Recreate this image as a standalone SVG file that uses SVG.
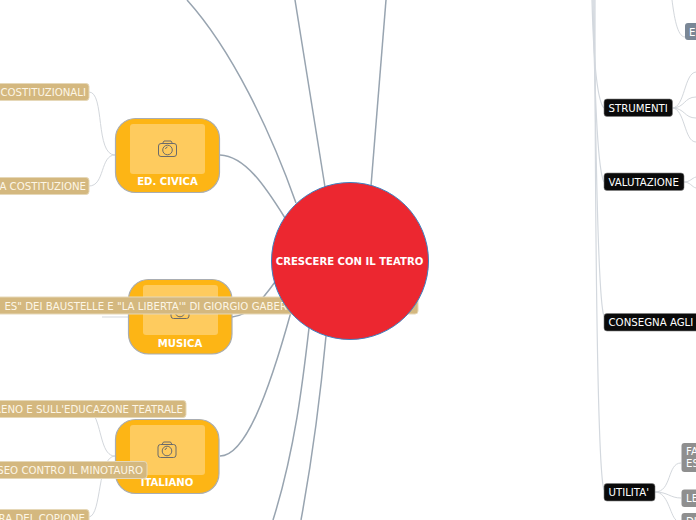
<svg xmlns="http://www.w3.org/2000/svg" width="696" height="520" viewBox="0 0 696 520">
<style>
text{font-family:"DejaVu Sans",sans-serif;font-size:10.2px}
.main{fill:none;stroke:#98a4b0;stroke-width:1.5}
.sub{fill:none;stroke:#d3d7dc;stroke-width:1}
.trunk{fill:none;stroke:#d3d8de;stroke-width:1.2}
.card{fill:#fdb515;stroke:#a9adb2;stroke-width:1.2}
.inner{fill:#fecb5e}
.cardt{fill:#fff;font-weight:bold;text-anchor:middle;font-size:10.100px}
.tan{fill:#d4b87f;stroke:#e6d8b8;stroke-width:1}
.tant{fill:#fdf6e6;text-anchor:end}
.blk{fill:#0a0a0a;stroke:#7d7d7d;stroke-width:.6}
.blkt{fill:#fff}
.gry{fill:#8f8f8f}
.gryt{fill:#fff}
.cam{fill:none;stroke:#6b6b6b;stroke-width:1}
</style>
<defs>
<g id="cam"><rect x="-9" y="-5.500" width="18" height="13" rx="2.500" class="cam"/><path d="M-5-5.500l1.500-2.500h7l1.500 2.500" class="cam"/><circle cx="0" cy="1" r="4.800" class="cam"/><path d="M-2 0a2.500 2.500 0 0 1 2-2" class="cam"/></g>
</defs>
<g id="connectors">
<path class="main" d="M187 0C232 50 270 130 296 203"/>
<path class="main" d="M295 0L325 187"/>
<path class="main" d="M386 0L371 186"/>
<path class="main" d="M220 155C245 156 265 186 285 218"/>
<path class="main" d="M232 317C250 315 262 300 275 282"/>
<path class="main" d="M220 456C245 456 268 395 291 312"/>
<path class="main" d="M309 328C303 380 295 450 273 520"/>
<path class="main" d="M326 336C320 400 312 460 301 520"/>
<path class="sub" d="M102 317H128"/>
<path class="sub" d="M89 92C105 92 95 155 115 155"/>
<path class="sub" d="M89 186C105 186 100 155 115 155"/>
<path class="sub" d="M95 417C102 432 102 456 115 456"/>
<path class="sub" d="M147 470C130 470 120 456 115 456"/>
<path class="sub" d="M89 517C102 515 97 457 115 456"/>
<path class="trunk" d="M592 0C593 40 596 100 604 108"/>
<path class="trunk" d="M593 0C594 60 597 170 604 182"/>
<path class="trunk" d="M594 0C595 100 597 300 604 316"/>
<path class="trunk" d="M595 0C595 200 597 470 604 490"/>
<path class="sub" d="M672 0C674 15 677 37 685 37"/>
<path class="sub" d="M672 108C685 108 684 73 696 72"/>
<path class="sub" d="M672 108C685 108 684 97 696 97"/>
<path class="sub" d="M672 108C685 108 684 118 696 118"/>
<path class="sub" d="M672 108C685 108 684 142 696 142"/>
<path class="sub" d="M684 182C690 182 692 178 696 177"/>
<path class="sub" d="M684 182C690 182 692 187 696 188"/>
<path class="sub" d="M655 492C672 492 667 463 681 463"/>
<path class="sub" d="M655 492C668 492 670 498 681 498"/>
<path class="sub" d="M655 492C668 492 670 515 676 520"/>
</g>
<g id="ed-civica">
<rect class="card" x="115.500" y="118.500" width="104" height="74" rx="20"/>
<rect class="inner" x="130" y="124" width="75" height="50" rx="3"/>
<use href="#cam" x="167.500" y="149"/>
<text class="cardt" x="167.500" y="185">ED. CIVICA</text>
</g>
<g id="costituzionali"><rect class="tan" x="-20" y="83.500" width="109" height="17" rx="3"/><text class="tant" x="86" y="96">COSTITUZIONALI</text></g>
<g id="costituzione"><rect class="tan" x="-20" y="177.500" width="109" height="17" rx="3"/><text class="tant" x="86" y="190">A COSTITUZIONE</text></g>
<g id="musica">
<rect class="card" x="128.500" y="279.500" width="103.500" height="74.500" rx="20"/>
<rect class="inner" x="143" y="285" width="75" height="50" rx="3"/>
<use href="#cam" x="180" y="311"/>
<text class="cardt" x="180" y="347">MUSICA</text>
</g>
<g id="baustelle"><rect class="tan" x="-20" y="297" width="438" height="17" rx="3"/><text class="tant" x="287" y="309.500">ES" DEI BAUSTELLE E "LA LIBERTA'" DI GIORGIO GABER</text></g>
<g id="italiano">
<rect class="card" x="115.500" y="419.500" width="103.500" height="74" rx="20"/>
<rect class="inner" x="130" y="425" width="75" height="50" rx="3"/>
<use href="#cam" x="167" y="450"/>
<text class="cardt" x="167" y="486">ITALIANO</text>
</g>
<g id="educazione"><rect class="tan" x="-20" y="400.500" width="206" height="17" rx="3"/><text class="tant" x="183" y="413">RENO E SULL'EDUCAZONE TEATRALE</text></g>
<g id="minotauro"><rect class="tan" x="-20" y="461.500" width="167" height="17" rx="3"/><text class="tant" x="143" y="474">SEO CONTRO IL MINOTAURO</text></g>
<g id="copione"><rect class="tan" x="-20" y="509.500" width="109" height="17" rx="3"/><text class="tant" x="85" y="522">RA DEL COPIONE</text></g>
<g id="centro">
<circle cx="350" cy="261" r="78.500" fill="#ec2730" stroke="#3f80c0" stroke-width="1"/>
<text x="349.500" y="265" fill="#fff" font-weight="bold" text-anchor="middle" style="font-size:10.100px">CRESCERE CON IL TEATRO</text>
</g>
<g id="strumenti"><rect class="blk" x="604" y="99" width="68.500" height="17.500" rx="3"/><text class="blkt" x="608.500" y="112">STRUMENTI</text></g>
<g id="valutazione"><rect class="blk" x="604" y="173" width="80" height="17.500" rx="3"/><text class="blkt" x="608.500" y="186">VALUTAZIONE</text></g>
<g id="consegna"><rect class="blk" x="604" y="313.500" width="100" height="17.500" rx="3"/><text class="blkt" x="608.500" y="326">CONSEGNA AGLI</text></g>
<g id="utilita"><rect class="blk" x="604" y="483.500" width="51" height="17.500" rx="3"/><text class="blkt" x="608.500" y="496">UTILITA'</text></g>
<g id="e-node"><rect x="685" y="23" width="20" height="17" rx="3" fill="#7a8796"/><text class="gryt" x="689" y="35.500">E</text></g>
<g id="fa-node"><rect class="gry" x="681.500" y="443" width="30" height="29" rx="3"/><text class="gryt" x="686" y="455">FA</text><text class="gryt" x="686" y="467">ES</text></g>
<g id="le-node"><rect class="gry" x="681.500" y="489.500" width="30" height="17.500" rx="3"/><text class="gryt" x="686" y="502">LE</text></g>
<g id="di-node"><rect class="gry" x="681.500" y="513" width="30" height="20" rx="3"/><text class="gryt" x="686" y="525">DI</text></g>
</svg>
